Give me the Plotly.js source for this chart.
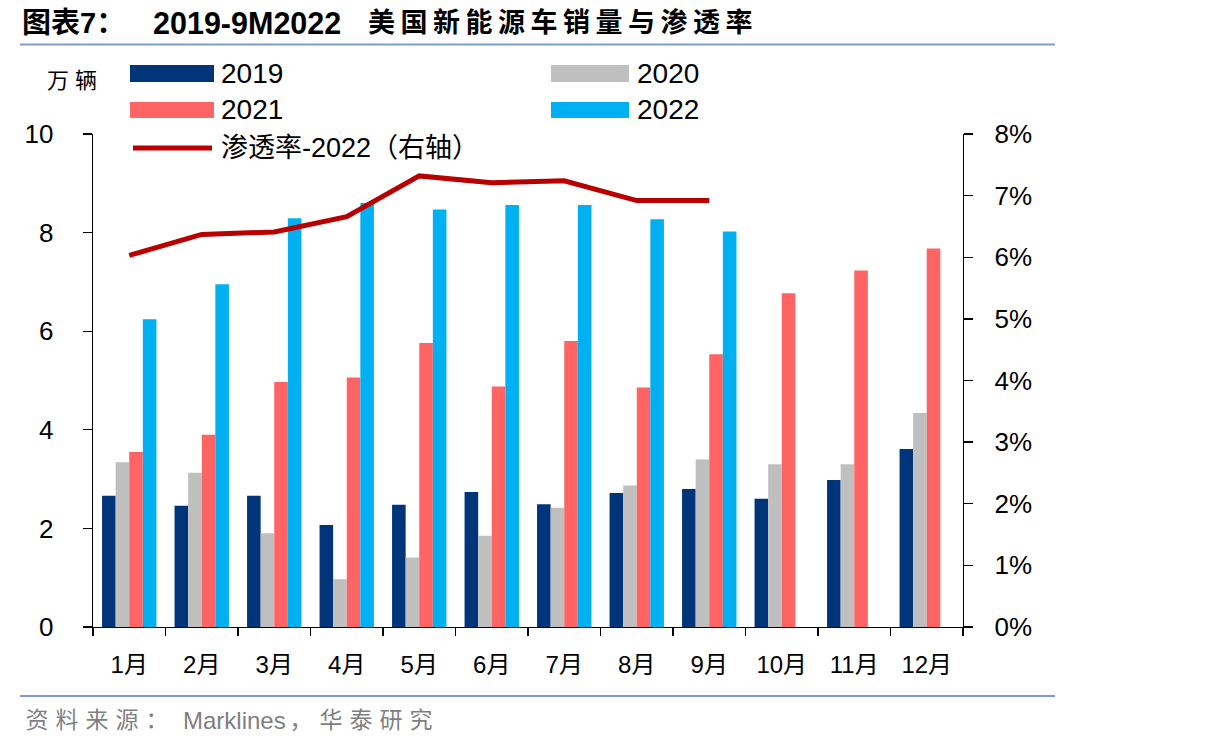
<!DOCTYPE html>
<html>
<head>
<meta charset="utf-8">
<script src="https://cdn.plot.ly/plotly-3.0.1.min.js"></script>
<style>
  body { margin: 0; background: #fff; }
  #chart { width: 1206px; height: 751px; }
  g.annotation[data-index="2"] text { letter-spacing: 5.5px; }
  g.annotation[data-index="3"] text { letter-spacing: 6px; }
  g.annotation[data-index="9"] text { letter-spacing: 7px; }
  g.annotation[data-index="11"] text { letter-spacing: 7px; }
</style>
</head>
<body>
<div id="chart"></div>
<script>
// ---- data ----
const months = ["1月","2月","3月","4月","5月","6月","7月","8月","9月","10月","11月","12月"];
const sales2019 = [2.66, 2.46, 2.66, 2.07, 2.48, 2.74, 2.49, 2.72, 2.80, 2.60, 2.98, 3.61];
const sales2020 = [3.34, 3.13, 1.90, 0.97, 1.41, 1.85, 2.42, 2.87, 3.40, 3.30, 3.30, 4.34];
const sales2021 = [3.55, 3.90, 4.97, 5.06, 5.76, 4.88, 5.80, 4.86, 5.53, 6.77, 7.23, 7.68];
const sales2022 = [6.24, 6.95, 8.29, 8.60, 8.47, 8.56, 8.56, 8.27, 8.02, null, null, null];
const penetration2022 = [0.0603, 0.0637, 0.0641, 0.0666, 0.0732, 0.0721, 0.0724, 0.0692, 0.0692, null, null, null];
const seriesNames = ["2019", "2020", "2021", "2022"];
const lineName = "渗透率-2022（右轴）";
const titleLead = "图表7：";
const titleCode = "2019-9M2022";
const titleRest = "美国新能源车销量与渗透率";
const unitLabel = "万辆";
const sourceLead = "资料来源：";
const sourceName = "Marklines";
const sourceTail = "，华泰研究";

// ---- style ----
const colors = ["#003679", "#BFBFBF", "#FF6464", "#00B0F0"];
const lineColor = "#B80000";
const FONT = "Liberation Sans, Arial, Noto Sans CJK SC, sans-serif";
const GREY = "#7F7F7F";

// plot area in pixels
const L = 93, R = 963, T = 134, B = 627;
const px = v => (v - L) / (R - L);
const py = v => (B - v) / (B - T);

const traces = [sales2019, sales2020, sales2021, sales2022].map((vals, i) => ({
  type: "bar", name: seriesNames[i], x: months, y: vals,
  marker: { color: colors[i], line: { width: 0 } },
  showlegend: false, hoverinfo: "x+y"
}));
traces.push({
  type: "scatter", mode: "lines", name: lineName, x: months, y: penetration2022,
  yaxis: "y2", line: { color: lineColor, width: 5, shape: "linear" },
  showlegend: false, connectgaps: false
});

function ann(text, x, y, size, opts = {}) {
  return Object.assign({
    text, xref: "paper", yref: "paper", x: px(x), y: py(y),
    xanchor: "left", yanchor: "middle", showarrow: false,
    font: { family: FONT, size, color: "#000" }
  }, opts);
}

// letter-spaced texts are shifted right by half of the added spacing (CSS spacing grows around the centre)
const annotations = [
  ann(titleLead, 20, 23, 29, { font: { family: FONT, size: 29, color: "#000", weight: 700 } }),
  ann(titleCode, 151, 23, 30.5, { font: { family: FONT, size: 30.5, color: "#000", weight: 700 } }),
  ann(titleRest, 366 + 12 * 5.5 / 2, 23, 27, { font: { family: FONT, size: 27, color: "#000", weight: 700 } }),
  ann(unitLabel, 45 + 2 * 6 / 2, 80, 22),
  ann(seriesNames[0], 219, 73, 28),
  ann(seriesNames[1], 635, 73, 28),
  ann(seriesNames[2], 219, 110, 28),
  ann(seriesNames[3], 635, 110, 28),
  ann(lineName, 219, 148, 27),
  ann(sourceLead, 23 + 5 * 7 / 2, 720, 23, { font: { family: FONT, size: 23, color: GREY } }),
  ann(sourceName, 181, 720, 24, { font: { family: FONT, size: 24, color: GREY } }),
  ann(sourceTail, 287 + 5 * 7 / 2, 720, 23, { font: { family: FONT, size: 23, color: GREY } })
];

function rect(x0, y0, x1, y1, color) {
  return { type: "rect", xref: "paper", yref: "paper", x0: px(x0), x1: px(x1), y0: py(y1), y1: py(y0),
           fillcolor: color, line: { width: 0 } };
}
function hline(x0, x1, y, color, width) {
  return { type: "line", xref: "paper", yref: "paper", x0: px(x0), x1: px(x1), y0: py(y), y1: py(y),
           line: { color, width } };
}

const shapes = [
  hline(20, 1055, 44.5, "#7F9CC8", 2),
  hline(20, 1055, 696, "#7F9CC8", 2),
  rect(130, 65, 214, 82, colors[0]),
  rect(551, 65, 629, 82, colors[1]),
  rect(130, 102, 214, 118, colors[2]),
  rect(551, 102, 629, 118, colors[3]),
  hline(133, 212, 148, lineColor, 5)
];

const layout = {
  width: 1206, height: 751,
  margin: { l: L, r: 1206 - R, t: T, b: 751 - B, pad: 0 },
  paper_bgcolor: "#fff", plot_bgcolor: "#fff",
  barmode: "group", bargap: 0.25, bargroupgap: 0,
  showlegend: false,
  font: { family: FONT, color: "#000" },
  xaxis: {
    type: "category", tickson: "boundaries", ticks: "outside", ticklen: 8, tickwidth: 1.3,
    tickcolor: "#000", showline: true, linecolor: "#000", linewidth: 1.3,
    showgrid: false, zeroline: false, tickfont: { size: 24, family: FONT },
    ticklabelstandoff: 16, fixedrange: true
  },
  yaxis: {
    range: [0, 10], dtick: 2, tick0: 0, ticks: "outside", ticklen: 9, tickwidth: 1.3,
    tickcolor: "#000", showline: true, linecolor: "#000", linewidth: 1.3,
    showgrid: false, zeroline: false, tickfont: { size: 26, family: FONT },
    ticklabelstandoff: 24, fixedrange: true
  },
  yaxis2: {
    overlaying: "y", side: "right", range: [0, 0.08], dtick: 0.01, tick0: 0,
    tickformat: ".0%", ticks: "outside", ticklen: 9, tickwidth: 1.3,
    tickcolor: "#000", showline: true, linecolor: "#000", linewidth: 1.3,
    showgrid: false, zeroline: false, tickfont: { size: 26, family: FONT },
    ticklabelstandoff: 16, fixedrange: true
  },
  annotations, shapes
};

Plotly.newPlot("chart", traces, layout, { displayModeBar: false, staticPlot: true });
</script>
</body>
</html>
